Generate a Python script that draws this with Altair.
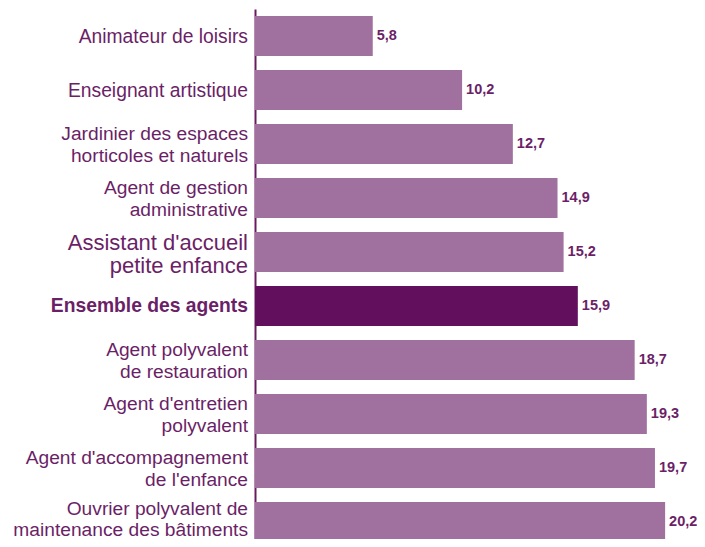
import altair as alt
import pandas as pd

categories = [
    "Animateur de loisirs",
    "Enseignant artistique",
    "Jardinier des espaces|horticoles et naturels",
    "Agent de gestion|administrative",
    "Assistant d'accueil|petite enfance",
    "Ensemble des agents",
    "Agent polyvalent|de restauration",
    "Agent d'entretien|polyvalent",
    "Agent d'accompagnement|de l'enfance",
    "Ouvrier polyvalent de|maintenance des bâtiments",
]
values = [5.8, 10.2, 12.7, 14.9, 15.2, 15.9, 18.7, 19.3, 19.7, 20.2]
value_labels = ["5,8", "10,2", "12,7", "14,9", "15,2", "15,9", "18,7", "19,3", "19,7", "20,2"]

TOTAL = "Ensemble des agents"
BIG = "Assistant d'accueil|petite enfance"
LAST = categories[-1]

df = pd.DataFrame({"cat": categories, "value": values, "vlabel": value_labels})

TXT = "#6b1f67"
FONT = "Liberation Sans"

y = alt.Y("cat:N", sort=categories,
          scale=alt.Scale(paddingInner=0.26, paddingOuter=0.13, range=[0, 540]),
          axis=alt.Axis(title=None, labels=False, ticks=False, domain=True,
                        domainColor="#6b1a62", domainWidth=2))

base = alt.Chart(df).encode(y=y)

bars = base.mark_bar().encode(
    x=alt.X("value:Q", scale=alt.Scale(domain=[0, 21.77], nice=False), axis=None),
    color=alt.condition(f"datum.cat == '{TOTAL}'", alt.value("#62105e"), alt.value("#a0719f")),
)

vals = base.mark_text(align="left", baseline="middle", dx=4, fontWeight="bold",
                      fontSize=14.5, font=FONT, color=TXT).encode(
    x="value:Q", text="vlabel:N")

multi = (f"indexof(datum.cat, '|') >= 0 && datum.cat != \"{BIG}\" "
         f"&& datum.cat != '{LAST}'")
single = f"indexof(datum.cat, '|') < 0 && datum.cat != '{TOTAL}'"

labels_multi = base.transform_filter(multi).mark_text(
    align="right", baseline="alphabetic", font=FONT, color=TXT, lineBreak="|",
    lineHeight=21.5, fontSize=19.2, dy=-4
).encode(x=alt.value(-7), text="cat:N")

labels_last = base.transform_filter(f"datum.cat == '{LAST}'").mark_text(
    align="right", baseline="alphabetic", font=FONT, color=TXT, lineBreak="|",
    lineHeight=21, fontSize=19.2, dy=-7
).encode(x=alt.value(-7), text="cat:N")

labels_single = base.transform_filter(single).mark_text(
    align="right", baseline="alphabetic", font=FONT, color=TXT,
    fontSize=19.3, dy=7
).encode(x=alt.value(-7), text="cat:N")

labels_big = base.transform_filter(f"datum.cat == \"{BIG}\"").mark_text(
    align="right", baseline="alphabetic", font=FONT, color=TXT, lineBreak="|",
    lineHeight=23, fontSize=22, dy=-2
).encode(x=alt.value(-7), text="cat:N")

labels_bold = base.transform_filter(f"datum.cat == '{TOTAL}'").mark_text(
    align="right", baseline="alphabetic", font=FONT, color=TXT, fontWeight="bold",
    fontSize=19.3, dy=6
).encode(x=alt.value(-7), text="cat:N")

chart = alt.layer(bars, vals, labels_multi, labels_last, labels_single, labels_big,
                  labels_bold).properties(
    width=442, height=530,
    autosize=alt.AutoSizeParams(type="none"),
    padding={"left": 247, "top": 1, "right": 0, "bottom": 0},
).configure_view(stroke=None)

chart.save("out.html", embed_options={"renderer": "svg", "actions": False})
